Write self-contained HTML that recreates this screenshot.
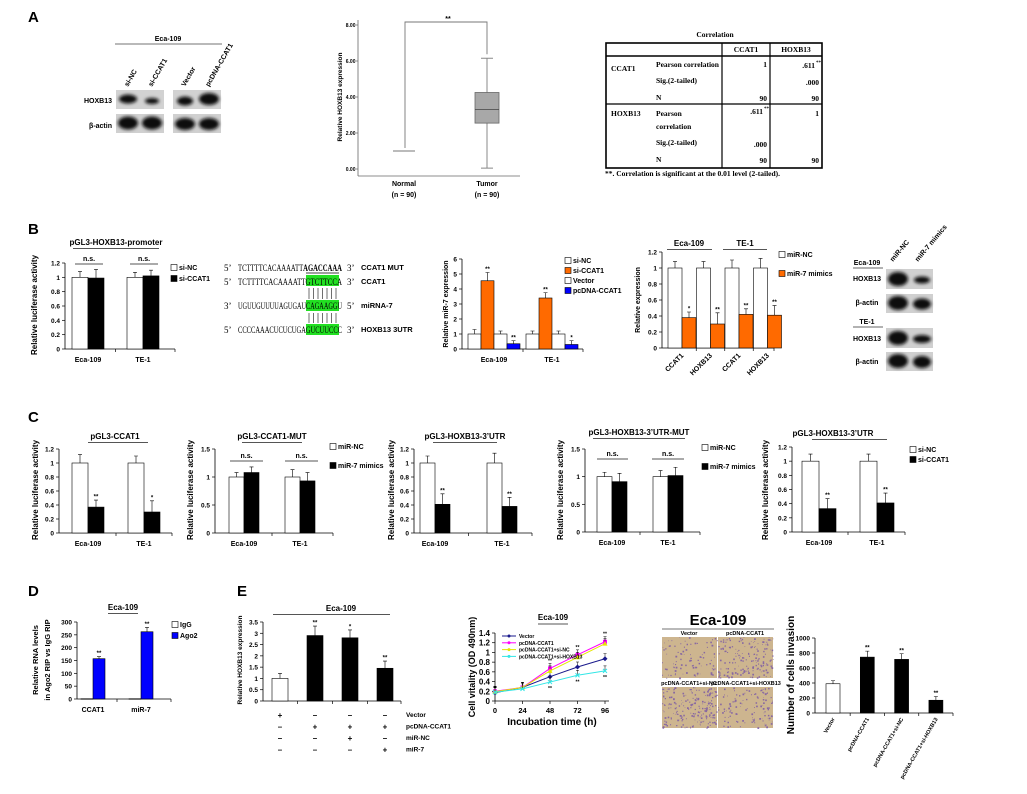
<!DOCTYPE html>
<html><head><meta charset="utf-8"><style>
html,body{margin:0;padding:0;background:#fff;}
svg{display:block;font-family:"Liberation Sans",Arial,sans-serif;}
.b{font-weight:bold;}
.ser{font-family:"Liberation Serif",serif;}
</style></head><body>
<svg id="fig" width="1027" height="794" viewBox="0 0 1027 794" xmlns="http://www.w3.org/2000/svg">
<defs>
<filter id="blur" x="-50%" y="-50%" width="200%" height="200%"><feGaussianBlur stdDeviation="1.6"/></filter>
</defs>
<rect width="1027" height="794" fill="#fff"/>
<text x="28" y="22" font-size="15" class="b">A</text>
<text x="28" y="234" font-size="15" class="b">B</text>
<text x="28" y="422" font-size="15" class="b">C</text>
<text x="28" y="596" font-size="15" class="b">D</text>
<text x="237" y="596" font-size="15" class="b">E</text>

<g font-size="7" class="b">
<text x="168" y="41" text-anchor="middle" class="b">Eca-109</text>
<line x1="115" y1="44" x2="222" y2="44" stroke="#444" stroke-width="0.8"/>
<text transform="translate(128,87) rotate(-60)" class="b">si-NC</text>
<text transform="translate(152,87) rotate(-60)" class="b">si-CCAT1</text>
<text transform="translate(185,87) rotate(-60)" class="b">Vector</text>
<text transform="translate(209,87) rotate(-60)" class="b">pcDNA-CCAT1</text>
<text x="112" y="103" text-anchor="end">HOXB13</text>
<text x="112" y="128" text-anchor="end">β-actin</text>
<rect x="116" y="90" width="48" height="19" fill="#d2d2d2"/>
<rect x="173" y="90" width="48" height="19" fill="#d2d2d2"/>
<rect x="116" y="114" width="48" height="19" fill="#d0d0d0"/>
<rect x="173" y="114" width="48" height="19" fill="#d0d0d0"/>
<g filter="url(#blur)" fill="#111">
<ellipse cx="128" cy="99" rx="9" ry="4.5"/><ellipse cx="152" cy="101" rx="7" ry="3"/>
<ellipse cx="185" cy="101" rx="8" ry="4.5"/><ellipse cx="209" cy="99" rx="10" ry="6"/>
<ellipse cx="128" cy="123" rx="10" ry="6.5"/><ellipse cx="152" cy="123" rx="10" ry="6.5"/>
<ellipse cx="185" cy="124" rx="10" ry="6"/><ellipse cx="209" cy="124" rx="10" ry="6"/>
</g></g>

<g class="ser b" font-size="7.5">
<text x="715" y="37" text-anchor="middle">Correlation</text>
<rect x="606" y="43" width="216" height="125" fill="none" stroke="#000" stroke-width="1.6"/>
<line x1="606" y1="56" x2="822" y2="56" stroke="#000" stroke-width="1.6"/>
<line x1="606" y1="104" x2="822" y2="104" stroke="#000" stroke-width="1.2"/>
<line x1="722" y1="43" x2="722" y2="168" stroke="#000" stroke-width="1.2"/>
<line x1="770" y1="43" x2="770" y2="168" stroke="#000" stroke-width="1.2"/>
<text x="746" y="52" text-anchor="middle">CCAT1</text>
<text x="796" y="52" text-anchor="middle">HOXB13</text>
<text x="611" y="71">CCAT1</text>
<text x="656" y="67">Pearson correlation</text>
<text x="656" y="83">Sig.(2-tailed)</text>
<text x="656" y="100">N</text>
<text x="767" y="67" text-anchor="end">1</text>
<text x="815" y="68" text-anchor="end">.611</text><text x="816" y="64" font-size="5">**</text>
<text x="819" y="85" text-anchor="end">.000</text>
<text x="767" y="101" text-anchor="end">90</text>
<text x="819" y="101" text-anchor="end">90</text>
<text x="611" y="116">HOXB13</text>
<text x="656" y="116">Pearson</text>
<text x="656" y="129">correlation</text>
<text x="656" y="145">Sig.(2-tailed)</text>
<text x="656" y="162">N</text>
<text x="763" y="114" text-anchor="end">.611</text><text x="764" y="110" font-size="5">**</text>
<text x="819" y="116" text-anchor="end">1</text>
<text x="767" y="147" text-anchor="end">.000</text>
<text x="767" y="163" text-anchor="end">90</text>
<text x="819" y="163" text-anchor="end">90</text>
<text x="605" y="176">**. Correlation is significant at the 0.01 level (2-tailed).</text>
</g>

<g font-size="9">
<rect x="306" y="275" width="33" height="11" fill="#22e022"/>
<rect x="306" y="300" width="33" height="11" fill="#22e022"/>
<rect x="306" y="324" width="33" height="11" fill="#22e022"/>
<text x="224" y="271" class="ser">5’</text><text x="238" y="271" class="ser" textLength="104" lengthAdjust="spacingAndGlyphs">TCTTTTCACAAAATT<tspan font-weight="bold">AGACCAAA</tspan></text>
<line x1="306" y1="273" x2="339" y2="273" stroke="#000" stroke-width="0.8"/>
<text x="224" y="285" class="ser">5’</text><text x="238" y="285" class="ser" textLength="104" lengthAdjust="spacingAndGlyphs">TCTTTTCACAAAATTGTCTTCCA</text>
<text x="224" y="309" class="ser">3’</text><text x="238" y="309" class="ser" textLength="104" lengthAdjust="spacingAndGlyphs">UGUUGUUUUAGUGAUCAGAAGGU</text>
<text x="224" y="333" class="ser">5’</text><text x="238" y="333" class="ser" textLength="104" lengthAdjust="spacingAndGlyphs">CCCCAAACUCUCUGAGUCUUCCC</text>
<g stroke="#333" stroke-width="0.7">
<path d="M309 288V299M313.5 288V299M318 288V299M322.5 288V299M327 288V299M331.5 288V299M336 288V299"/>
<path d="M309 313V323M313.5 313V323M318 313V323M322.5 313V323M327 313V323M331.5 313V323M336 313V323"/>
</g>
<g class="b" font-size="7.5">
<text x="347" y="271" class="ser" font-weight="normal" font-size="9">3’</text><text x="361" y="270">CCAT1 MUT</text>
<text x="347" y="285" class="ser" font-weight="normal" font-size="9">3’</text><text x="361" y="284">CCAT1</text>
<text x="347" y="309" class="ser" font-weight="normal" font-size="9">5’</text><text x="361" y="308">miRNA-7</text>
<text x="347" y="333" class="ser" font-weight="normal" font-size="9">3’</text><text x="361" y="332">HOXB13 3UTR</text>
</g></g>

<g font-size="7" class="b">
<text transform="translate(893,262) rotate(-50)">miR-NC</text>
<text transform="translate(918,262) rotate(-50)">miR-7 mimics</text>
<text x="867" y="265" text-anchor="middle">Eca-109</text>
<line x1="853" y1="268" x2="883" y2="268" stroke="#333" stroke-width="0.8"/>
<text x="867" y="281" text-anchor="middle">HOXB13</text>
<text x="867" y="305" text-anchor="middle">β-actin</text>
<text x="867" y="324" text-anchor="middle">TE-1</text>
<line x1="853" y1="327" x2="883" y2="327" stroke="#333" stroke-width="0.8"/>
<text x="867" y="341" text-anchor="middle">HOXB13</text>
<text x="867" y="364" text-anchor="middle">β-actin</text>
<rect x="886" y="269" width="47" height="20" fill="#d0d0d0"/>
<rect x="886" y="294" width="47" height="19" fill="#d0d0d0"/>
<rect x="886" y="328" width="47" height="20" fill="#d0d0d0"/>
<rect x="886" y="352" width="47" height="19" fill="#d0d0d0"/>
<g filter="url(#blur)" fill="#111">
<ellipse cx="898" cy="279" rx="10" ry="7"/><ellipse cx="922" cy="280" rx="8" ry="3.5"/>
<ellipse cx="898" cy="303" rx="10" ry="7"/><ellipse cx="922" cy="304" rx="9" ry="5.5"/>
<ellipse cx="898" cy="338" rx="10" ry="7"/><ellipse cx="922" cy="339" rx="9" ry="4"/>
<ellipse cx="898" cy="361" rx="10" ry="7"/><ellipse cx="922" cy="362" rx="9" ry="6"/>
</g></g>

<g id="micro">
<text x="718" y="625" text-anchor="middle" font-size="15" class="b">Eca-109</text>
<line x1="662" y1="629" x2="774" y2="629" stroke="#444" stroke-width="0.8"/>
<text x="689" y="635" text-anchor="middle" font-size="5.5" class="b">Vector</text>
<text x="745" y="635" text-anchor="middle" font-size="5.5" class="b">pcDNA-CCAT1</text>
<text x="689" y="685" text-anchor="middle" font-size="5.5" class="b">pcDNA-CCAT1+si-NC</text>
<text x="746" y="685" text-anchor="middle" font-size="5.5" class="b">pcDNA-CCAT1+si-HOXB13</text>
</g>
<g id="charts"></g>
</svg>
<script>
// ===== DATA =====
const boxCats = ["Normal", "Tumor"];
const boxMin = [1, 0.05];
const boxQ1 = [1, 2.55];
const boxMed = [1, 3.3];
const boxQ3 = [1, 4.25];
const boxMax = [1, 6.15];
const boxTicks = [0, 2, 4, 6, 8];
const b1Cats = ["Eca-109", "TE-1"];
const b1SiNC = [1, 1];
const b1SiNCErr = [0.08, 0.07];
const b1SiCCAT1 = [0.99, 1.02];
const b1SiCCAT1Err = [0.12, 0.08];
const lucTicks12 = [0, 0.2, 0.4, 0.6, 0.8, 1, 1.2];
const lucTicks15 = [0, 0.5, 1, 1.5];
const b2Cats = ["Eca-109", "TE-1"];
const b2SiNC = [1, 1];
const b2SiNCErr = [0.3, 0.2];
const b2SiCCAT1 = [4.55, 3.4];
const b2SiCCAT1Err = [0.55, 0.35];
const b2Vector = [1, 1];
const b2VectorErr = [0.2, 0.2];
const b2PcDNA = [0.35, 0.3];
const b2PcDNAErr = [0.2, 0.25];
const b2Ticks = [0, 1, 2, 3, 4, 5, 6];
const b3Cats = ["CCAT1", "HOXB13", "CCAT1", "HOXB13"];
const b3MiNC = [1, 1, 1, 1];
const b3MiNCErr = [0.08, 0.08, 0.1, 0.12];
const b3Mimics = [0.38, 0.3, 0.42, 0.41];
const b3MimicsErr = [0.07, 0.14, 0.07, 0.12];
const cCats = ["Eca-109", "TE-1"];
const c1NC = [1, 1], c1NCErr = [0.12, 0.1];
const c1Mim = [0.37, 0.3], c1MimErr = [0.1, 0.16];
const c2NC = [1, 1], c2NCErr = [0.08, 0.13];
const c2Mim = [1.08, 0.93], c2MimErr = [0.1, 0.15];
const c3NC = [1, 1], c3NCErr = [0.1, 0.14];
const c3Mim = [0.41, 0.38], c3MimErr = [0.15, 0.13];
const c4NC = [1, 1], c4NCErr = [0.08, 0.11];
const c4Mim = [0.91, 1.02], c4MimErr = [0.15, 0.15];
const c5NC = [1, 1], c5NCErr = [0.1, 0.1];
const c5Si = [0.33, 0.41], c5SiErr = [0.14, 0.14];
const dCats = ["CCAT1", "miR-7"];
const dIgG = [1, 1];
const dAgo2 = [157, 262];
const dAgo2Err = [8, 17];
const dTicks = [0, 50, 100, 150, 200, 250, 300];
const e1Vals = [1, 2.9, 2.8, 1.45];
const e1Err = [0.22, 0.42, 0.35, 0.32];
const e1Ticks = [0, 0.5, 1, 1.5, 2, 2.5, 3, 3.5];
const eTimes = [0, 24, 48, 72, 96];
const eVector = [0.17, 0.28, 0.5, 0.7, 0.87];
const ePcDNA = [0.2, 0.28, 0.67, 0.95, 1.22];
const eSiNC = [0.19, 0.28, 0.62, 0.9, 1.18];
const eSiHOX = [0.18, 0.25, 0.39, 0.53, 0.62];
const eLineTicks = [0, 0.2, 0.4, 0.6, 0.8, 1, 1.2, 1.4];
const e3Cats = ["Vector", "pcDNA-CCAT1", "pcDNA-CCAT1+si-NC", "pcDNA-CCAT1+si-HOXB13"];
const e3Vals = [390, 745, 715, 170];
const e3Err = [40, 80, 75, 50];
const e3Ticks = [0, 200, 400, 600, 800, 1000];

// ===== DRAWING =====
const NS = 'http://www.w3.org/2000/svg';
const root = document.getElementById('charts');
function mk(tag, a, p) { const e = document.createElementNS(NS, tag); for (const k in a) e.setAttribute(k, a[k]); (p || root).appendChild(e); return e; }
function txt(s, a, p) { const e = mk('text', a, p); e.textContent = s; return e; }
function fmt(t) { return String(+t.toFixed(2)); }

function barChart(name, L, cats, series) {
  const g = mk('g', {});
  
  
  const ys = v => L.yb - (v / L.max) * (L.yb - L.yt);
  const xc = i => L.c0 + i * L.gw;
  mk('line', { x1: L.ax, y1: L.yt, x2: L.ax, y2: L.yb, stroke: '#000', 'stroke-width': 0.8 }, g);
  mk('line', { x1: L.ax, y1: L.yb, x2: L.xe, y2: L.yb, stroke: '#000', 'stroke-width': 0.8 }, g);
  L.ticks.forEach(t => {
    const y = ys(t);
    mk('line', { x1: L.ax - 3, y1: y, x2: L.ax, y2: y, stroke: '#000', 'stroke-width': 0.7 }, g);
    const lb = txt(L.fmt ? L.fmt(t) : fmt(t), { x: L.ax - 5, y: y + 2.5, 'font-size': L.tfs || 6.5, 'text-anchor': 'end', 'font-weight': 'bold' }, g);
    
    
  });
  for (let i = 1; i < cats.length; i++) {
    const x = (xc(i - 1) + xc(i)) / 2;
    mk('line', { x1: x, y1: L.yb, x2: x, y2: L.yb + 3, stroke: '#000', 'stroke-width': 0.7 }, g);
  }
  mk('line', { x1: L.xe, y1: L.yb, x2: L.xe, y2: L.yb + 3, stroke: '#000', 'stroke-width': 0.7 }, g);
  if (!L.noCat) cats.forEach((c, i) => {
    const lb = txt(c, { x: xc(i), y: L.yb + 13, 'font-size': L.cfs || 7, 'text-anchor': 'middle', 'font-weight': 'bold' }, g);
    
    
  });
  const n = series.length;
  series.forEach((s, j) => {
    cats.forEach((c, i) => {
      const v = s.vals[i];
      const x = xc(i) + (j - n / 2) * L.bw;
      const top = ys(v);
      const fill = s.fills ? s.fills[i] : s.fill;
      const r = mk('rect', { x: x, y: top, width: L.bw, height: Math.max(0.5, L.yb - top), fill: fill, stroke: s.stroke || '#000', 'stroke-width': 0.6 }, g);
      
      
      if (s.errs) {
        const ey = ys(v + s.errs[i]);
        const cx = x + L.bw / 2;
        const eb = mk('path', { d: 'M' + cx + ' ' + top + 'V' + ey + 'M' + (cx - 2) + ' ' + ey + 'H' + (cx + 2), stroke: '#000', 'stroke-width': 0.6, fill: 'none' }, g);
        
        
        if (s.stars && s.stars[i]) txt(s.stars[i], { x: cx, y: ey - 1.5, 'font-size': 6, 'text-anchor': 'middle', 'font-weight': 'bold' }, g);
      }
    });
  });
  return { g, ys, xc };
}
function ylabel(s, x, cy, fs, p) {
  const t = txt(s, { transform: 'translate(' + x + ',' + cy + ') rotate(-90)', 'text-anchor': 'middle', 'font-size': fs || 8, 'font-weight': 'bold' }, p);
  
  
}
function legend(x, y, dy, items) {
  items.forEach((it, i) => {
    const sw = mk('rect', { x: x, y: y + i * dy - 5.5, width: 6, height: 6, fill: it[1], stroke: it[2] || '#000', 'stroke-width': 0.6 });
    
    
    const t = txt(it[0], { x: x + 8, y: y + i * dy, 'font-size': 7, 'font-weight': 'bold' });
    
    
  });
}
function title(s, x, y, x1, x2, fs) {
  const t = txt(s, { x: x, y: y, 'font-size': fs || 8, 'text-anchor': 'middle', 'font-weight': 'bold' });
  
  
  mk('line', { x1: x1, y1: y + 3.5, x2: x2, y2: y + 3.5, stroke: '#555', 'stroke-width': 0.9 });
}
function ns(x1, x2, y) {
  mk('line', { x1: x1, y1: y, x2: x2, y2: y, stroke: '#555', 'stroke-width': 0.9 });
  txt('n.s.', { x: (x1 + x2) / 2, y: y - 3, 'font-size': 7, 'text-anchor': 'middle', 'font-weight': 'bold' });
}

// --- Panel A boxplot ---
(function () {
  const g = mk('g', {});
  
  
  const yb = 169, yt = 25, ax = 358;
  const ys = v => yb - v / 8 * (yb - yt);
  const xs = i => 404 + i * 83;
  mk('line', { x1: ax, y1: 20, x2: ax, y2: 176, stroke: '#666', 'stroke-width': 0.8 }, g);
  mk('line', { x1: ax, y1: 176, x2: 520, y2: 176, stroke: '#666', 'stroke-width': 0.8 }, g);
  boxTicks.forEach(t => {
    mk('line', { x1: ax - 2, y1: ys(t), x2: ax, y2: ys(t), stroke: '#666', 'stroke-width': 0.7 }, g);
    txt(t.toFixed(2), { x: ax - 2.5, y: ys(t) + 2, 'font-size': 5, 'text-anchor': 'end', 'font-weight': 'bold' }, g);
  });
  boxCats.forEach((c, i) => {
    const x = xs(i);
    const lb = txt(c, { x: x, y: 186, 'font-size': 7, 'text-anchor': 'middle', 'font-weight': 'bold' }, g);
    
    
    txt('(n = 90)', { x: x, y: 197, 'font-size': 7, 'text-anchor': 'middle', 'font-weight': 'bold' }, g);
    if (boxQ3[i] - boxQ1[i] < 0.01) {
      const l = mk('line', { x1: x - 11, y1: ys(boxMed[i]), x2: x + 11, y2: ys(boxMed[i]), stroke: '#777', 'stroke-width': 1 }, g);
      
      
    } else {
      const w = mk('path', { d: 'M' + x + ' ' + ys(boxMax[i]) + 'V' + ys(boxQ3[i]) + 'M' + x + ' ' + ys(boxQ1[i]) + 'V' + ys(boxMin[i]) + 'M' + (x - 6) + ' ' + ys(boxMax[i]) + 'H' + (x + 6) + 'M' + (x - 6) + ' ' + ys(boxMin[i]) + 'H' + (x + 6), stroke: '#888', 'stroke-width': 1, fill: 'none' }, g);
      
      
      const b = mk('rect', { x: x - 12, y: ys(boxQ3[i]), width: 24, height: ys(boxQ1[i]) - ys(boxQ3[i]), fill: '#a8a8a8', stroke: '#666', 'stroke-width': 0.8 }, g);
      
      
      mk('line', { x1: x - 12, y1: ys(boxMed[i]), x2: x + 12, y2: ys(boxMed[i]), stroke: '#444', 'stroke-width': 0.8 }, g);
    }
  });
  mk('path', { d: 'M' + (xs(0) + 1) + ' ' + (ys(boxMax[0]) - 3) + 'V22H' + xs(1) + 'V' + (ys(boxMax[1]) - 4), stroke: '#777', 'stroke-width': 0.9, fill: 'none' }, g);
  txt('**', { x: 448, y: 21, 'font-size': 7, 'text-anchor': 'middle', 'font-weight': 'bold' }, g);
  ylabel('Relative HOXB13 expression', 342, 97, 6.5, g);
})();

// --- Panel B1 ---
barChart('chart-b-promoter', { ax: 65, xe: 175, yb: 349, yt: 263, max: 1.2, ticks: lucTicks12, c0: 88, gw: 55, bw: 16 }, b1Cats, [
  { key: 'si-nc', vals: b1SiNC, errs: b1SiNCErr, fill: '#fff' },
  { key: 'si-ccat1', vals: b1SiCCAT1, errs: b1SiCCAT1Err, fill: '#000' }]);
title('pGL3-HOXB13-promoter', 116, 245, 73, 159);
ns(75, 103, 264); ns(130, 158, 264);
legend(171, 270, 11, [['si-NC', '#fff'], ['si-CCAT1', '#000']]);
ylabel('Relative luciferase activity', 37, 305);

// --- Panel B2 ---
barChart('chart-b-mir7', { ax: 462, xe: 583, yb: 349, yt: 259, max: 6, ticks: b2Ticks, c0: 494, gw: 58, bw: 13 }, b2Cats, [
  { key: 'si-nc', vals: b2SiNC, errs: b2SiNCErr, fill: '#fff' },
  { key: 'si-ccat1', vals: b2SiCCAT1, errs: b2SiCCAT1Err, fill: '#ff6a00', stars: ['**', '**'] },
  { key: 'vector', vals: b2Vector, errs: b2VectorErr, fill: '#fff' },
  { key: 'pcdna-ccat1', vals: b2PcDNA, errs: b2PcDNAErr, fill: '#0000ff', stars: ['**', '*'] }]);
legend(565, 263, 10, [['si-NC', '#fff'], ['si-CCAT1', '#ff6a00'], ['Vector', '#fff'], ['pcDNA-CCAT1', '#0000ff']]);
ylabel('Relative miR-7 expression', 448, 304, 7);

// --- Panel B3 ---
(function () {
  const c = barChart('chart-b-relative-expression', { ax: 662, xe: 774, yb: 348, yt: 252, max: 1.2, ticks: lucTicks12, c0: 682, gw: 28.5, bw: 14, noCat: true }, b3Cats, [
    { key: 'mir-nc', vals: b3MiNC, errs: b3MiNCErr, fill: '#fff' },
    { key: 'mir7-mimics', vals: b3Mimics, errs: b3MimicsErr, fill: '#ff6a00', stars: ['*', '**', '**', '**'] }]);
  b3Cats.forEach((s, i) => {
    const t = txt(s, { transform: 'translate(' + (c.xc(i) + 2) + ',356) rotate(-45)', 'font-size': 7, 'text-anchor': 'end', 'font-weight': 'bold' });
    
    
  });
})();
title('Eca-109', 689, 246, 667, 712);
title('TE-1', 745, 246, 723, 767);
legend(779, 257, 19, [['miR-NC', '#fff'], ['miR-7 mimics', '#ff6a00']]);
ylabel('Relative expression', 640, 300, 7);

// --- Panel C ---
barChart('chart-c-ccat1', { ax: 59, xe: 172, yb: 533, yt: 449, max: 1.2, ticks: lucTicks12, c0: 88, gw: 56, bw: 16 }, cCats, [
  { key: 'mir-nc', vals: c1NC, errs: c1NCErr, fill: '#fff' },
  { key: 'mir7', vals: c1Mim, errs: c1MimErr, fill: '#000', stars: ['**', '*'] }]);
title('pGL3-CCAT1', 115, 439, 88, 148);
ylabel('Relative luciferase activity', 38, 490);

barChart('chart-c-ccat1-mut', { ax: 215, xe: 333, yb: 533, yt: 449, max: 1.5, ticks: lucTicks15, c0: 244, gw: 56, bw: 15 }, cCats, [
  { key: 'mir-nc', vals: c2NC, errs: c2NCErr, fill: '#fff' },
  { key: 'mir7', vals: c2Mim, errs: c2MimErr, fill: '#000' }]);
title('pGL3-CCAT1-MUT', 272, 439, 242, 302);
ns(230, 263, 461); ns(285, 318, 461);
legend(330, 449, 19, [['miR-NC', '#fff'], ['miR-7 mimics', '#000']]);
ylabel('Relative luciferase activity', 193, 490);

barChart('chart-c-hoxb13-utr', { ax: 414, xe: 532, yb: 533, yt: 449, max: 1.2, ticks: lucTicks12, c0: 435, gw: 67, bw: 15 }, cCats, [
  { key: 'mir-nc', vals: c3NC, errs: c3NCErr, fill: '#fff' },
  { key: 'mir7', vals: c3Mim, errs: c3MimErr, fill: '#000', stars: ['**', '**'] }]);
title('pGL3-HOXB13-3’UTR', 465, 439, 433, 497);
ylabel('Relative luciferase activity', 394, 490);

barChart('chart-c-hoxb13-utr-mut', { ax: 585, xe: 700, yb: 532, yt: 449, max: 1.5, ticks: lucTicks15, c0: 612, gw: 56, bw: 15 }, cCats, [
  { key: 'mir-nc', vals: c4NC, errs: c4NCErr, fill: '#fff' },
  { key: 'mir7', vals: c4Mim, errs: c4MimErr, fill: '#000' }]);
title('pGL3-HOXB13-3’UTR-MUT', 639, 435, 593, 685);
ns(597, 628, 459); ns(652, 684, 459);
legend(702, 450, 19, [['miR-NC', '#fff'], ['miR-7 mimics', '#000']]);
ylabel('Relative luciferase activity', 563, 490);

barChart('chart-c-hoxb13-utr-sicc', { ax: 792, xe: 905, yb: 532, yt: 447, max: 1.2, ticks: lucTicks12, c0: 819, gw: 58, bw: 17 }, cCats, [
  { key: 'si-nc', vals: c5NC, errs: c5NCErr, fill: '#fff' },
  { key: 'si-ccat1', vals: c5Si, errs: c5SiErr, fill: '#000', stars: ['**', '**'] }]);
title('pGL3-HOXB13-3’UTR', 833, 436, 812, 887);
legend(910, 452, 10, [['si-NC', '#fff'], ['si-CCAT1', '#000']]);
ylabel('Relative luciferase activity', 768, 490);

// --- Panel D ---
barChart('chart-d-rip', { ax: 77, xe: 171, yb: 699, yt: 622, max: 300, ticks: dTicks, c0: 93, gw: 48, bw: 12 }, dCats, [
  { key: 'igg', vals: dIgG, fill: '#fff' },
  { key: 'ago2', vals: dAgo2, errs: dAgo2Err, fill: '#0000ff', stars: ['**', '**'] }]);
title('Eca-109', 123, 610, 108, 138);
legend(172, 627, 11, [['IgG', '#fff'], ['Ago2', '#0000ff']]);
ylabel('Relative RNA levels', 38, 660, 7.5);
ylabel('in Ago2 RIP vs IgG RIP', 50, 660, 7.5);

// --- Panel E1 ---
(function () {
  const c = barChart('chart-e-hoxb13', { ax: 263, xe: 401, yb: 701, yt: 622, max: 3.5, ticks: e1Ticks, c0: 280, gw: 35, bw: 16, noCat: true }, ['Vector', 'pcDNA-CCAT1', 'pcDNA-CCAT1+miR-NC', 'pcDNA-CCAT1+miR-7'], [
    { key: 'group', vals: e1Vals, errs: e1Err, fills: ['#fff', '#000', '#000', '#000'], stars: ['', '**', '*', '**'] }]);
  const conds = [[1, 0, 0, 0], [0, 1, 1, 1], [0, 0, 1, 0], [0, 0, 0, 1]];
  const names = ['Vector', 'pcDNA-CCAT1', 'miR-NC', 'miR-7'];
  conds.forEach((row, r) => {
    row.forEach((v, i) => txt(v ? '+' : '–', { x: c.xc(i), y: 718 + r * 11.5, 'font-size': 8, 'text-anchor': 'middle', 'font-weight': 'bold' }));
    const t = txt(names[r], { x: 406, y: 717 + r * 11.5, 'font-size': 6.5, 'font-weight': 'bold' });
    
    
  });
})();
title('Eca-109', 341, 611, 273, 390);
ylabel('Relative HOXB13 expression', 242, 660, 6.5);

// --- Panel E line chart ---
(function () {
  const g = mk('g', {});
  
  
  const ax = 495, xe = 605, yb = 701, yt = 633;
  const xs = t => ax + t / 96 * (xe - ax);
  const ys = v => yb - v / 1.4 * (yb - yt);
  mk('line', { x1: ax, y1: yt, x2: ax, y2: yb, stroke: '#000', 'stroke-width': 0.8 }, g);
  mk('line', { x1: ax, y1: yb, x2: xe + 4, y2: yb, stroke: '#000', 'stroke-width': 0.8 }, g);
  eLineTicks.forEach(t => {
    mk('line', { x1: ax - 3, y1: ys(t), x2: ax, y2: ys(t), stroke: '#000', 'stroke-width': 0.7 }, g);
    txt(fmt(t), { x: ax - 5, y: ys(t) + 3, 'font-size': 8, 'text-anchor': 'end', 'font-weight': 'bold' }, g);
  });
  eTimes.forEach(t => {
    mk('line', { x1: xs(t), y1: yb, x2: xs(t), y2: yb + 3, stroke: '#000', 'stroke-width': 0.7 }, g);
    const lb = txt(String(t), { x: xs(t), y: yb + 12, 'font-size': 7.5, 'text-anchor': 'middle', 'font-weight': 'bold' }, g);
    
    
  });
  txt('Incubation time (h)', { x: 552, y: 725, 'font-size': 10, 'text-anchor': 'middle', 'font-weight': 'bold' }, g);
  ylabel('Cell vitality (OD 490nm)', 475, 667, 9, g);
  const ser = [['Vector', eVector, '#1a1a8c', 'd'], ['pcDNA-CCAT1', ePcDNA, '#ff00ff', 's'], ['pcDNA-CCAT1+si-NC', eSiNC, '#e6e600', 't'], ['pcDNA-CCAT1+si-HOXB13', eSiHOX, '#33e6e6', 'x']];
  ser.forEach((s, k) => {
    const pts = eTimes.map((t, i) => xs(t) + ',' + ys(s[1][i])).join(' ');
    const pl = mk('polyline', { points: pts, fill: 'none', stroke: s[2], 'stroke-width': 1 }, g);
    
    
    eTimes.forEach((t, i) => {
      const x = xs(t), y = ys(s[1][i]);
      mk('path', { d: 'M' + x + ' ' + y + 'V' + (y - 5) + 'M' + (x - 1.5) + ' ' + (y - 5) + 'H' + (x + 1.5), stroke: '#000', 'stroke-width': 0.5 }, g);
      let m;
      if (s[3] === 'd') m = mk('path', { d: 'M' + x + ' ' + (y - 2.5) + 'L' + (x + 2.5) + ' ' + y + 'L' + x + ' ' + (y + 2.5) + 'L' + (x - 2.5) + ' ' + y + 'Z', fill: s[2] }, g);
      else if (s[3] === 's') m = mk('rect', { x: x - 2, y: y - 2, width: 4, height: 4, fill: s[2] }, g);
      else if (s[3] === 't') m = mk('path', { d: 'M' + x + ' ' + (y - 2.5) + 'L' + (x + 2.5) + ' ' + (y + 2) + 'L' + (x - 2.5) + ' ' + (y + 2) + 'Z', fill: s[2] }, g);
      else m = mk('path', { d: 'M' + (x - 2) + ' ' + (y - 2) + 'L' + (x + 2) + ' ' + (y + 2) + 'M' + (x + 2) + ' ' + (y - 2) + 'L' + (x - 2) + ' ' + (y + 2), stroke: s[2], 'stroke-width': 1 }, g);
      
      
      if (i >= 2 && (k === 1 || k === 3)) txt('**', { x: x, y: k === 1 ? y - 6 : y + 8, 'font-size': 5, 'text-anchor': 'middle', 'font-weight': 'bold' }, g);
    });
    const ly = 636 + k * 6.8;
    mk('line', { x1: 502, y1: ly, x2: 516, y2: ly, stroke: s[2], 'stroke-width': 1 }, g);
    mk('circle', { cx: 509, cy: ly, r: 1.5, fill: s[2] }, g);
    const lt = txt(s[0], { x: 519, y: ly + 2, 'font-size': 5, 'font-weight': 'bold' }, g);
    
    
  });
  mk('line', { x1: 538, y1: 624, x2: 568, y2: 624, stroke: '#555', 'stroke-width': 0.9 }, g);
  txt('Eca-109', { x: 553, y: 620, 'font-size': 8, 'text-anchor': 'middle', 'font-weight': 'bold' }, g);
})();

// --- micrographs (decorative texture) ---
(function () {
  const g = document.getElementById('micro');
  const boxes = [[662, 637, 0.35], [718, 637, 0.7], [662, 687, 0.8], [718, 687, 0.45]];
  let seed = 7;
  const rnd = () => (seed = (seed * 16807) % 2147483647) / 2147483647;
  boxes.forEach((b, k) => {
    const r = mk('rect', { x: b[0], y: b[1], width: 55, height: 41, fill: '#cdb58f' }, g);
    
    
    const n = Math.round(260 * b[2]);
    let d = '';
    for (let i = 0; i < n; i++) {
      const x = b[0] + rnd() * 55, y = b[1] + rnd() * 41, s = 0.6 + rnd() * 1.2;
      d += 'M' + x.toFixed(1) + ' ' + y.toFixed(1) + 'h' + s.toFixed(1) + 'v' + s.toFixed(1) + 'h-' + s.toFixed(1) + 'z';
    }
    mk('path', { d: d, fill: '#7b5aa6', opacity: 0.85 }, g);
  });
})();

// --- Panel E invasion bar chart ---
(function () {
  const c = barChart('chart-e-invasion', { ax: 815, xe: 953, yb: 713, yt: 638, max: 1000, ticks: e3Ticks, c0: 833, gw: 34.3, bw: 14, noCat: true, tfs: 6.5 }, e3Cats, [
    { key: 'group', vals: e3Vals, errs: e3Err, fills: ['#fff', '#000', '#000', '#000'], stars: ['', '**', '**', '**'] }]);
  e3Cats.forEach((s, i) => {
    const t = txt(s, { transform: 'translate(' + (c.xc(i) + 2) + ',719) rotate(-60)', 'font-size': 5.5, 'text-anchor': 'end', 'font-weight': 'bold' });
    
    
  });
})();
ylabel('Number of cells invasion', 794, 675, 10);
</script>
</body></html>
